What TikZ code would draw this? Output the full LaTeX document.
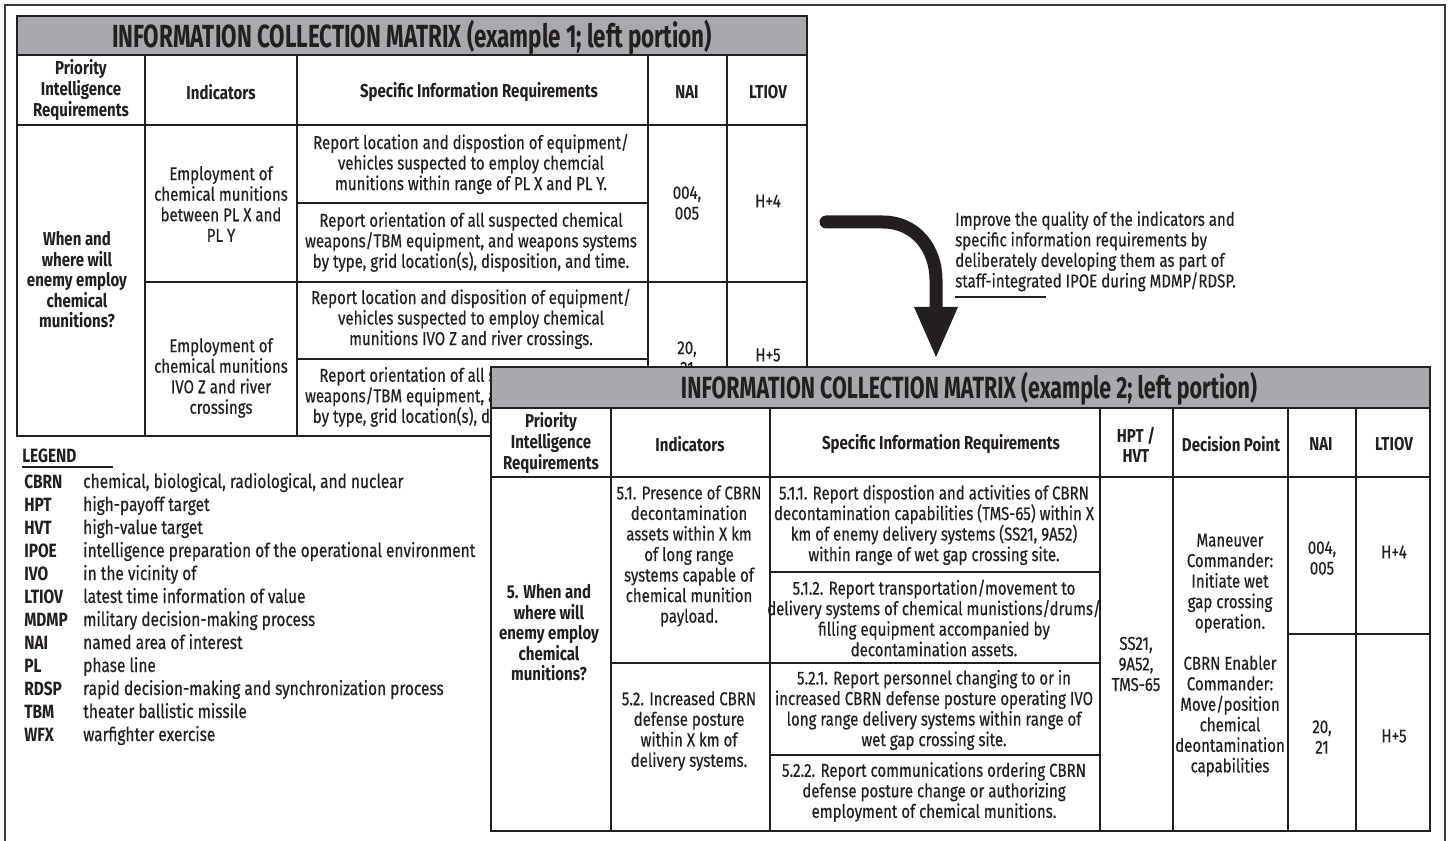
\documentclass[tikz,border=0pt]{standalone}
\usepackage{fontspec}
\setmainfont{Fira Sans}[FakeStretch=0.805, UprightFeatures={FakeBold=0.4}]
\newfontfamily\titfam{Fira Sans}[FakeStretch=0.70]
\definecolor{titlegray}{RGB}{167,169,172}
\definecolor{linec}{RGB}{35,31,32}
\definecolor{framec}{RGB}{60,60,60}
\newcommand\bodyf{\fontsize{14}{15.4}\selectfont}
\newcommand\legf{\fontsize{14.4}{15.4}\selectfont}
\newcommand\titf{\titfam\fontsize{24}{26}\selectfont\bfseries}
\newcommand\titfb{\titfam\fontsize{23}{26}\selectfont\bfseries}
\begin{document}
\begin{tikzpicture}[x=0.75pt,y=-0.75pt,
  tl/.style={line width=1.9pt, draw=linec},
  txt/.style={align=center, font=\bodyf, inner sep=0pt, text=linec},
  hd/.style={align=center, font=\bodyf\bfseries, inner sep=0pt, text=linec},
  tit/.style={font=\titf, inner sep=0pt, text=linec},
  labb/.style={anchor=base west, font=\legf\bfseries, inner sep=0pt, text=linec},
  ldef/.style={anchor=base west, font=\legf, inner sep=0pt, text=linec}]
\useasboundingbox (0,0) rectangle (1449,841);
\clip (0,0) rectangle (1449,841);
\fill[white] (0,0) rectangle (1449,841);
\draw[line width=2pt, draw=framec] (5,5) rectangle (1445,880);

% ---------- Table 1 ----------
\fill[titlegray] (17,16) rectangle (807,55);
\draw[tl] (17,16) rectangle (807,436);
\draw[tl] (17,55) -- (807,55);
\draw[tl] (17,125) -- (807,125);
\foreach \xx in {145,297,648,727} \draw[tl] (\xx,55) -- (\xx,436);
\draw[tl] (145,282) -- (807,282);
\draw[tl] (297,203) -- (648,203);
\draw[tl] (297,359) -- (648,359);

\node[tit] (t1title) at (412,37) {INFORMATION COLLECTION MATRIX (example 1; left portion)};
\node[hd] (t1h1) at (81,90) {Priority\\Intelligence\\Requirements};
\node[hd] (t1h2) at (221,92) {Indicators};
\node[hd] (t1h3) at (479,92) {Specific Information Requirements};
\node[hd] (t1h4) at (687,92) {NAI};
\node[hd] (t1h5) at (768,92) {LTIOV};

\node[hd] (t1pir) at (77,280) {When and\\where will\\enemy employ\\chemical\\munitions?};
\node[txt] (t1i1) at (221,204) {Employment of\\chemical munitions\\between PL X and\\PL Y};
\node[txt] (t1i2) at (221,378) {Employment of\\chemical munitions\\IVO Z and river\\crossings};
\node[txt] (t1s1) at (471,164) {Report location and dispostion of equipment/\\vehicles suspected to employ chemcial\\munitions within range of PL X and PL Y.};
\node[txt] (t1s2) at (471,242) {Report orientation of all suspected chemical\\weapons/TBM equipment, and weapons systems\\by type, grid location(s), disposition, and time.};
\node[txt] (t1s3) at (471,319) {Report location and disposition of equipment/\\vehicles suspected to employ chemical\\munitions IVO Z and river crossings.};
\node[txt] (t1s4) at (471,397) {Report orientation of all suspected chemical\\weapons/TBM equipment, and weapons systems\\by type, grid location(s), disposition, and time.};
\node[txt] (t1n1) at (687,203) {004,\\005};
\node[txt] (t1n2) at (687,358) {20,\\21};
\node[txt] (t1l1) at (768,201) {H+4};
\node[txt] (t1l2) at (768,355) {H+5};

% ---------- Legend ----------
\node[labb] (leg) at (22,462) {LEGEND};
\draw[line width=1.5pt, draw=linec] (22,467) -- (113,467);
\foreach \ab/\de [count=\i from 0] in {CBRN/{chemical, biological, radiological, and nuclear},HPT/high-payoff target,HVT/high-value target,IPOE/intelligence preparation of the operational environment,IVO/in the vicinity of,LTIOV/latest time information of value,MDMP/military decision-making process,NAI/named area of interest,PL/phase line,RDSP/rapid decision-making and synchronization process,TBM/theater ballistic missile,WFX/warfighter exercise}{
  \node[labb] (ab\i) at (24,{488+23*\i}) {\ab};
  \node[ldef] (de\i) at (83,{488+23*\i}) {\de};
}

% ---------- Arrow and note ----------
\draw[line width=9.75pt, draw=linec, line cap=round] (826,222) -- (883,222) .. controls (915,222) and (936,248) .. (936,280) -- (936,312);
\fill[linec] (914,307) -- (958,307) -- (936,357) -- cycle;
\node[align=left, font=\bodyf, inner sep=0pt, text=linec, anchor=north west] (note) at (955,211) {Improve the quality of the indicators and\\specific information requirements by\\deliberately developing them as part of\\staff-integrated IPOE during MDMP/RDSP.};
\draw[line width=1.5pt, draw=linec] (955,297) -- (1046,297);

% ---------- Table 2 ----------
\fill[white] (491,367) rectangle (1430,831);
\fill[titlegray] (491,367) rectangle (1430,408);
\draw[tl] (491,367) rectangle (1430,831);
\draw[tl] (491,408) -- (1430,408);
\draw[tl] (491,477) -- (1430,477);
\foreach \xx in {611,770,1100,1173,1288,1356} \draw[tl] (\xx,408) -- (\xx,831);
\draw[tl] (611,663) -- (1100,663);
\draw[tl] (770,572) -- (1100,572);
\draw[tl] (770,755) -- (1100,755);
\draw[tl] (1288,634) -- (1430,634);

\node[font=\titfb, inner sep=0pt, text=linec] (t2title) at (969,389) {INFORMATION COLLECTION MATRIX (example 2; left portion)};
\node[hd] (t2h1) at (551,443) {Priority\\Intelligence\\Requirements};
\node[hd] (t2h2) at (690,444) {Indicators};
\node[hd] (t2h3) at (941,444) {Specific Information Requirements};
\node[hd] (t2h4) at (1136,445) {HPT /\\HVT};
\node[hd] (t2h5) at (1231,444) {Decision Point};
\node[hd] (t2h6) at (1321,444) {NAI};
\node[hd] (t2h7) at (1394,444) {LTIOV};

\node[hd] (t2pir) at (549,633) {5. When and\\where will\\enemy employ\\chemical\\munitions?};
\node[txt] (t2i1) at (689,556) {5.1. Presence of CBRN\\decontamination\\assets within X km\\of long range\\systems capable of\\chemical munition\\payload.};
\node[txt] (t2i2) at (689,731) {5.2. Increased CBRN\\defense posture\\within X km of\\delivery systems.};
\node[txt] (t2s1) at (934,525) {5.1.1. Report dispostion and activities of CBRN\\decontamination capabilities (TMS-65) within X\\km of enemy delivery systems (SS21, 9A52)\\within range of wet gap crossing site.};
\node[txt] (t2s2) at (934,618) {5.1.2. Report transportation/movement to\\delivery systems of chemical munistions/drums/\\filling equipment accompanied by\\decontamination assets.};
\node[txt] (t2s3) at (934,710) {5.2.1. Report personnel changing to or in\\increased CBRN defense posture operating IVO\\long range delivery systems within range of\\wet gap crossing site.};
\node[txt] (t2s4) at (934,792) {5.2.2. Report communications ordering CBRN\\defense posture change or authorizing\\employment of chemical munitions.};
\node[txt] (t2hv) at (1136,664) {SS21,\\9A52,\\TMS-65};
\node[txt] (t2dp) at (1230,655) {Maneuver\\Commander:\\Initiate wet\\gap crossing\\operation.\\[15.4pt]CBRN Enabler\\Commander:\\Move/position\\chemical\\deontamination\\capabilities};
\node[txt] (t2n1) at (1322,558) {004,\\005};
\node[txt] (t2n2) at (1322,737) {20,\\21};
\node[txt] (t2l1) at (1394,552) {H+4};
\node[txt] (t2l2) at (1394,736) {H+5};
\end{tikzpicture}
\end{document}
